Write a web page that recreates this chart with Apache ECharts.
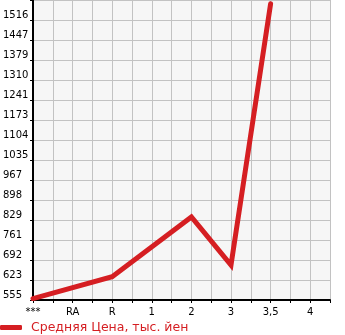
<!DOCTYPE html>
<html>
<head>
<meta charset="utf-8">
<script src="https://cdn.jsdelivr.net/npm/echarts@6/dist/echarts.min.js"></script>
<style>html,body{margin:0;padding:0;background:#fff}#c{width:345px;height:335px}</style>
</head>
<body>
<div id="c"></div>
<script>
var categories = ['***', 'RA', 'R', '1', '2', '3', '3,5', '4'];
var prices = [560, null, 635, null, 840, 675, 1572, null];
var yMin = 555;
var yMax = 1585;
var yTickCount = 15;
var seriesName = 'Средняя Цена, тыс. йен';

var yStep = (yMax - yMin) / yTickCount;
var points = [];
for (var i = 0; i < categories.length; i++) {
  if (prices[i] !== null) points.push([i, prices[i]]);
}
var red = '#d51e22';
var chart = echarts.init(document.getElementById('c'), null, {renderer: 'canvas'});
chart.setOption({
  animation: false,
  grid: {left: 31, right: 15, top: 0, bottom: 35, show: true, backgroundColor: '#f6f6f6', borderWidth: 0},
  legend: {
    left: 0, top: 321, padding: 0, itemWidth: 22, itemHeight: 5, itemGap: 10,
    icon: 'roundRect',
    textStyle: {color: red, fontSize: 12.5, fontFamily: 'DejaVu Sans', padding: [0, 0, 0, 4]},
    data: [{name: seriesName, itemStyle: {color: red}}]
  },
  xAxis: {
    type: 'value', min: 0, max: categories.length - 0.5, interval: 0.5,
    axisLine: {show: true, lineStyle: {color: '#000', width: 2}},
    axisTick: {show: true, length: 3, lineStyle: {color: '#000', width: 1}},
    splitLine: {show: true, lineStyle: {color: '#c2c2c2', width: 1}},
    axisLabel: {
      margin: 7, fontSize: 10, fontFamily: 'DejaVu Sans', color: '#000',
      showMinLabel: true, showMaxLabel: true,
      formatter: function (v) { return (Math.abs(v - Math.round(v)) < 1e-6 && categories[Math.round(v)] !== undefined) ? categories[Math.round(v)] : ''; }
    }
  },
  yAxis: [{
    type: 'value', min: yMin, max: yMax, show: false,
    splitLine: {show: false}
  }, {
    type: 'value', position: 'left', min: 0, max: yTickCount, interval: 1,
    axisLine: {show: true, onZero: false, lineStyle: {color: '#000', width: 2}},
    axisTick: {show: true, length: 3, lineStyle: {color: '#000', width: 1}},
    splitLine: {show: true, lineStyle: {color: '#c2c2c2', width: 1}},
    axisLabel: {
      margin: 30, align: 'left', verticalAlign: 'bottom', fontSize: 10, fontFamily: 'DejaVu Sans', color: '#000',
      formatter: function (v) { return v >= yTickCount ? '' : String(Math.floor(yMin + v * yStep + 1e-6)); }
    }
  }],
  series: [{
    name: seriesName, type: 'line', yAxisIndex: 0, data: points,
    showSymbol: false, symbol: 'none', connectNulls: true,
    lineStyle: {color: red, width: 5, cap: 'round', join: 'miter'},
    itemStyle: {color: red}
  }]
});
</script>
</body>
</html>
